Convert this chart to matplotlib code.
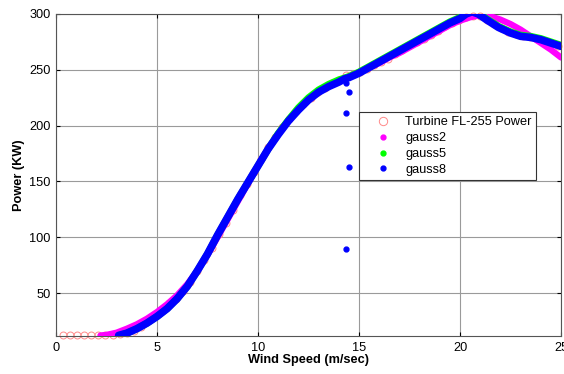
import numpy as np
import matplotlib
matplotlib.use('Agg')
import matplotlib.pyplot as plt
from matplotlib.lines import Line2D

plt.rcParams['font.family'] = ['Liberation Sans', 'DejaVu Sans']

# Measured turbine power (red circles)
turbine_speed = [0.35, 0.7, 1.05, 1.4, 1.75, 2.1, 2.45, 2.8, 3.15, 3.5, 3.85, 4.2, 4.55, 4.9,
                 5.25, 5.6, 5.95, 6.3, 6.65, 7.0, 7.35, 7.7, 8.05, 8.4, 8.75, 9.1, 9.45, 9.8,
                 10.15, 10.5, 10.85, 11.2, 11.55, 11.9, 12.25, 12.6, 12.95, 13.3, 13.65, 14.0,
                 14.35, 14.7, 15.05, 15.4, 15.75, 16.1, 16.45, 16.8, 17.15, 17.5, 17.85, 18.2,
                 18.55, 18.9, 19.25, 19.6, 19.95, 20.3, 20.65, 21.0, 21.35, 21.7, 22.05, 22.4,
                 22.75, 23.1, 23.45, 23.8, 24.15, 24.5, 24.85]
turbine_power = [12, 12, 12, 12, 12, 12, 12, 12.5, 13, 14, 16, 20, 25, 31,
                 36, 41, 45, 52, 60, 70, 80, 90, 103, 113, 124, 138, 148, 158,
                 170, 181, 190, 199, 206, 213, 219, 225, 230, 234, 238, 241,
                 245, 246, 248, 251, 254, 257, 260, 264, 268, 272, 275, 278,
                 281, 285, 289, 292, 295, 297, 298, 298, 295, 291, 287, 284,
                 282, 280, 279, 278, 276, 274, 271]

# gauss2 fit
g2_speed = [2.2, 2.5, 3.0, 3.5, 4.0, 4.5, 5.0, 5.5, 6.0, 6.5, 7.0, 7.5, 8.0, 8.5, 9.0, 9.5,
            10.0, 10.5, 11.0, 11.5, 12.0, 12.5, 13.0, 13.5, 14.0, 14.5, 15.0, 15.5, 16.0,
            16.5, 17.0, 17.5, 18.0, 18.5, 19.0, 19.5, 20.0, 20.5, 21.0, 21.5, 22.0, 22.5,
            23.0, 23.5, 24.0, 24.5, 25.0]
g2_power = [12, 12.5, 14.5, 18, 22, 27, 33, 40, 48, 58, 70, 84, 100, 116, 132, 148,
            164, 179, 192, 204, 214, 223, 230, 235, 240, 244, 248, 252, 256,
            261, 265, 270, 275, 280, 285, 290, 294, 297, 299, 298, 295, 291,
            286, 280, 274, 268, 261]

# gauss5 fit
g5_speed = [3.1, 3.5, 4.0, 4.5, 5.0, 5.5, 6.0, 6.5, 7.0, 7.5, 8.0, 8.5, 9.0, 9.5, 10.0,
            10.5, 11.0, 11.5, 12.0, 12.5, 13.0, 13.5, 14.0, 14.5, 15.0, 15.5, 16.0, 16.5,
            17.0, 17.5, 18.0, 18.5, 19.0, 19.5, 20.0, 20.3, 20.6, 20.9, 21.3, 21.9, 22.5,
            23.0, 23.5, 24.0, 24.5, 25.0]
g5_power = [12, 14, 18, 23, 29, 36, 45, 56, 70, 85, 102, 118, 134, 149, 164,
            179, 193, 205, 216, 225, 232, 237, 241, 244, 248, 253, 258, 263,
            268, 273, 278, 283, 288, 293, 297, 301, 303, 301, 296, 289, 284,
            281, 280, 278, 275, 272]

# gauss8 fit
g8_speed = [3.1, 3.5, 4.0, 4.5, 5.0, 5.5, 6.0, 6.5, 7.0, 7.5, 8.0, 8.5, 9.0, 9.5, 10.0,
            10.5, 11.0, 11.5, 12.0, 12.5, 13.0, 13.5, 14.0, 14.3, 14.5, 15.0, 15.5, 16.0,
            16.5, 17.0, 17.5, 18.0, 18.5, 19.0, 19.5, 20.0, 20.3, 20.6, 20.9, 21.3, 21.9,
            22.5, 23.0, 23.5, 24.0, 24.5, 25.0]
g8_power = [12, 14, 18, 23, 29, 36, 45, 56, 70, 85, 102, 118, 134, 149, 164,
            179, 192, 204, 214, 223, 230, 235, 239, 242, 243, 247, 252, 257,
            262, 267, 272, 277, 282, 287, 292, 296, 300, 302, 300, 295, 288,
            283, 280, 279, 277, 274, 271]
# stray gauss8 points near 14.4 m/s
g8_out_speed = [14.35, 14.5, 14.35, 14.5, 14.35]
g8_out_power = [238, 230, 211.5, 162.5, 89]

fig = plt.figure(figsize=(5.64, 3.74), dpi=100)
ax = fig.add_axes([0.0993, 0.1016, 0.8954, 0.861])

ax.plot(turbine_speed, turbine_power, 'o', mfc='none', mec='#ff8a8a', ms=5, mew=0.7,
        clip_on=False, zorder=2)
ax.plot(g2_speed, g2_power, '-', color='#ff00ff', lw=4.5, solid_capstyle='round', zorder=3)
ax.plot(g5_speed, g5_power, '-', color='#00ff00', lw=5, solid_capstyle='round', zorder=4)
ax.plot(g8_speed, g8_power, '-', color='#0000ff', lw=5.5, solid_capstyle='round', zorder=5)
ax.plot(g8_out_speed, g8_out_power, 'o', color='#0000ff', ms=3.5, zorder=5)

ax.set_xlim(0, 25)
ax.set_ylim(11.5, 300)
ax.set_xticks([0, 5, 10, 15, 20, 25])
ax.set_yticks([50, 100, 150, 200, 250, 300])
ax.grid(True, color='#9a9a9a', lw=0.8)
ax.set_axisbelow(True)
ax.tick_params(direction='in', top=True, right=True, length=3, labelsize=9.2, pad=4)
for s in ax.spines.values():
    s.set_color('#555555')
    s.set_linewidth(0.8)

ax.set_xlabel('Wind Speed (m/sec)', fontsize=9.2, fontweight='bold', labelpad=0)
ax.set_ylabel('Power (KW)', fontsize=9.2, fontweight='bold', labelpad=3)

handles = [
    Line2D([], [], ls='none', marker='o', mfc='none', mec='#ff8a8a', ms=6, mew=0.7),
    Line2D([], [], ls='none', marker='o', color='#ff00ff', ms=3.5),
    Line2D([], [], ls='none', marker='o', color='#00ff00', ms=3.5),
    Line2D([], [], ls='none', marker='o', color='#0000ff', ms=3.5),
]
labels = ['Turbine FL-255 Power', 'gauss2', 'gauss5', 'gauss8']
leg = ax.legend(handles, labels, loc='upper left', bbox_to_anchor=(0.6, 0.696),
                fontsize=9.2, frameon=True, fancybox=False, framealpha=1,
                edgecolor='#333333', borderpad=0.35, labelspacing=0.3,
                handlelength=3.0, handletextpad=0.25, borderaxespad=0)
leg.get_frame().set_linewidth(0.8)

fig.savefig('out.png', dpi=100)
